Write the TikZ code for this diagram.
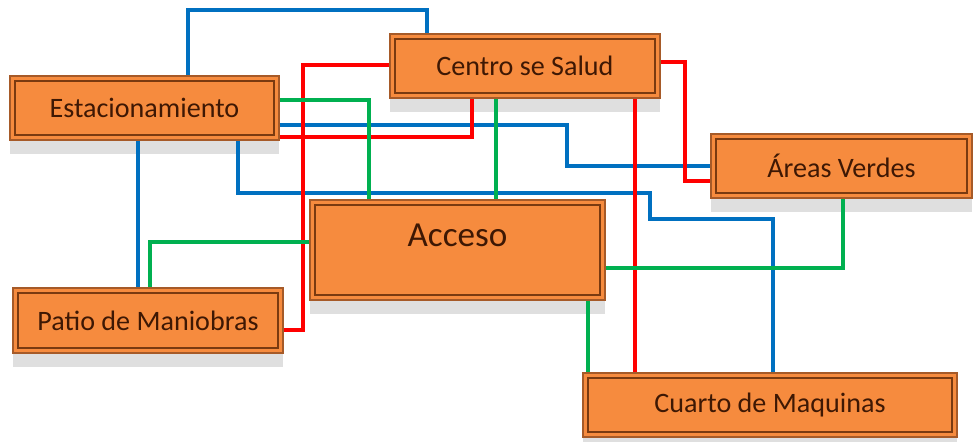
\documentclass[tikz,border=0pt]{standalone}
\usepackage{fontspec}
\setmainfont{Carlito}
\usepackage{tikz}
\usetikzlibrary{shadows}

\definecolor{boxorange}{HTML}{F68B3E}
\definecolor{boxedge}{HTML}{A65A28}
\definecolor{boxinner}{HTML}{7A3A10}
\definecolor{boxtext}{HTML}{3E1804}
\definecolor{lnblue}{HTML}{0070C0}
\definecolor{lnred}{HTML}{FF0000}
\definecolor{lngreen}{HTML}{00B050}

\begin{document}
\begin{tikzpicture}[
  x=0.02cm, y=-0.02cm,
  box/.style={draw=boxedge, line width=0.8pt, fill=boxorange, text=boxtext,
              font=\fontsize{16}{19}\selectfont, minimum height=1.28cm,
              drop shadow={shadow xshift=0pt, shadow yshift=-8pt, fill=gray, opacity=0.25},
              path picture={\draw[boxinner, line width=1pt]
                ([shift={(3pt,-3pt)}]path picture bounding box.north west) rectangle
                ([shift={(-3pt,3pt)}]path picture bounding box.south east);}},
  bl/.style={draw=lnblue, line width=2pt},
  rd/.style={draw=lnred, line width=2pt},
  gr/.style={draw=lngreen, line width=2pt}
]
  \useasboundingbox (0,0) rectangle (974,441);

  \node[box, minimum width=5.38cm] (est) at (144.5,108) {Estacionamiento};
  \node[box, minimum width=5.4cm] (cen) at (525,66) {Centro se Salud};
  \node[box, minimum width=5.22cm] (are) at (841.5,166) {Áreas Verdes};
  \node[box, minimum width=5.9cm, minimum height=2cm, text depth=17pt,
        font=\fontsize{20}{24}\selectfont] (acc) at (457.5,250) {Acceso};
  \node[box, minimum width=5.4cm, minimum height=1.3cm] (pat) at (148,320.5) {Patio de Maniobras};
  \node[box, minimum width=7.48cm] (cua) at (770,405) {Cuarto de Maquinas};

  \draw[bl] (est.north -| 188,0) -- (188,10) -| (cen.north -| 427,0);
  \draw[bl] (est.south -| 138,0) -- (pat.north -| 138,0);
  \draw[bl] (est.east |- 0,125) -| (567,166) -- (are.west |- 0,166);
  \draw[bl] (est.south -| 238,0) |- (650,193) |- (773,219) -- (cua.north -| 773,0);

  \draw[rd] (cen.west |- 0,65) -| (303,330) -- (pat.east |- 0,330);
  \draw[rd] (cen.south -| 472,0) |- (est.east |- 0,137);
  \draw[rd] (cen.east |- 0,62) -| (685,181) -- (are.west |- 0,181);
  \draw[rd] (cen.south -| 635,0) -- (cua.north -| 635,0);

  \draw[gr] (est.east |- 0,100) -| (acc.north -| 369,0);
  \draw[gr] (cen.south -| 496,0) -- (acc.north -| 496,0);
  \draw[gr] (acc.west |- 303,242) -| (pat.north -| 150,0);
  \draw[gr] (acc.east |- 0,268) -| (are.south -| 843,0);
  \draw[gr] (acc.south -| 588,0) -- (cua.north -| 588,0);
\end{tikzpicture}
\end{document}
